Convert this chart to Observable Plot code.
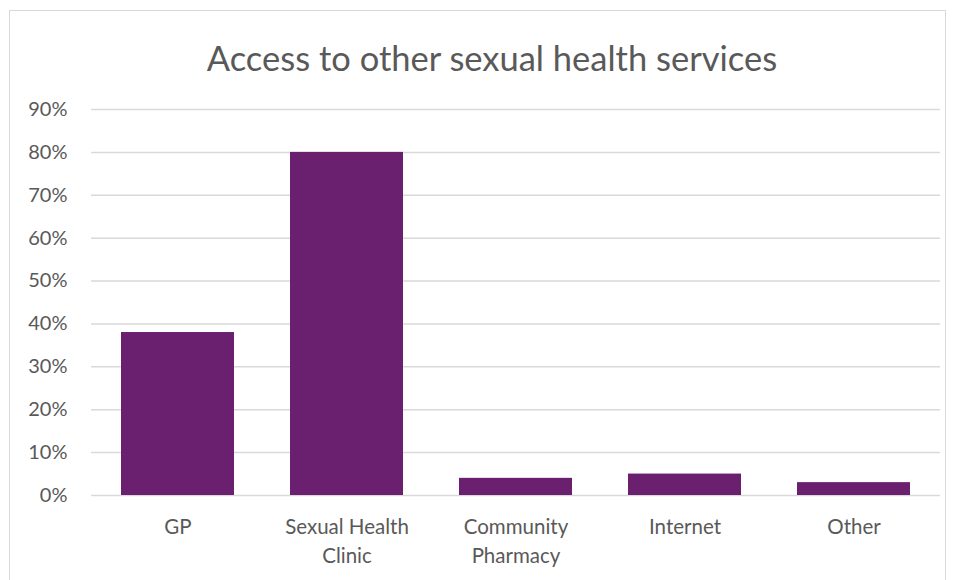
<!DOCTYPE html>
<html>
<head>
<meta charset="utf-8">
<script src="https://cdn.jsdelivr.net/npm/d3@7"></script>
<script src="https://cdn.jsdelivr.net/npm/@observablehq/plot@0.6"></script>
<style>
  html, body { margin: 0; padding: 0; background: #fff; }
  body { width: 957px; height: 580px; position: relative; overflow: hidden; font-family: Lato, "Open Sans", sans-serif; }
  #frame { position: absolute; left: 9px; top: 10px; width: 937px; height: 590px; border: 1px solid #d9d9d9; box-sizing: border-box; }
  #title { position: absolute; left: 0; top: 38px; width: 984px; text-align: center; font-size: 34.5px; color: #595959; line-height: 40px; white-space: nowrap; }
  #chart { position: absolute; left: 0; top: 90px; }
</style>
</head>
<body>
<div id="frame"></div>
<div id="title">Access to other sexual health services</div>
<div id="chart"></div>
<script>
const categories = ["GP", "Sexual Health\nClinic", "Community\nPharmacy", "Internet", "Other"];
const values = [0.38, 0.80, 0.04, 0.05, 0.03];
const yTicks = [0, 0.1, 0.2, 0.3, 0.4, 0.5, 0.6, 0.7, 0.8, 0.9];

const data = categories.map((c, i) => ({category: c, value: values[i]}));

const chart = Plot.plot({
  width: 957,
  height: 490,
  marginTop: 19,
  marginBottom: 85,
  marginLeft: 91,
  marginRight: 17,
  style: {fontFamily: "Lato, 'Open Sans', sans-serif", fontSize: "20px", color: "#595959", background: "transparent", overflow: "visible"},
  x: {domain: categories, paddingInner: 0.33, paddingOuter: 0.165, label: null},
  y: {domain: [0, 0.9], label: null},
  marks: [
    Plot.gridY(yTicks, {stroke: "#d9d9d9", strokeOpacity: 1, strokeWidth: 1.5}),
    Plot.barY(data, {x: "category", y: "value", fill: "#6B1F6F"}),
    Plot.axisY(yTicks, {tickSize: 0, tickPadding: 24, tickFormat: d3.format(".0%"), fill: "#595959", fontSize: 20, label: null}),
    Plot.axisX({tickSize: 0, tickPadding: 18, fill: "#595959", fontSize: 20.5, lineHeight: 1.42, label: null, textOverflow: null, lineWidth: Infinity})
  ]
});
document.getElementById("chart").appendChild(chart);
</script>
</body>
</html>
